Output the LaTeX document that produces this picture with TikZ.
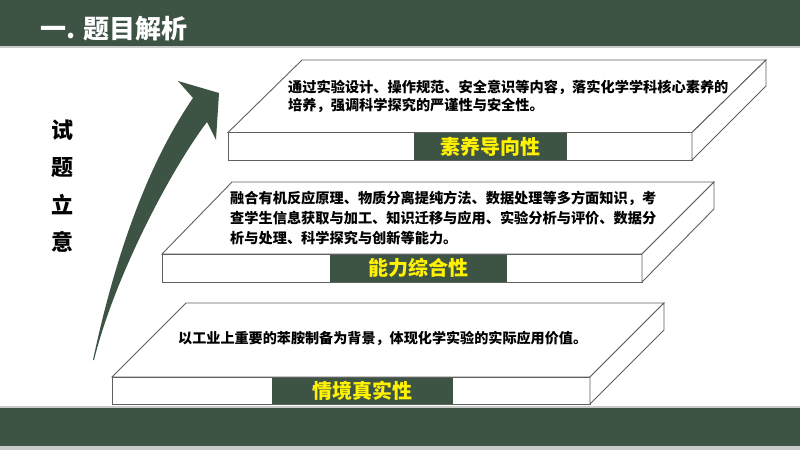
\documentclass[tikz,border=0pt]{standalone}
\usepackage{fontspec}
\setmainfont{Noto Sans CJK SC}
\definecolor{dkgreen}{RGB}{61,83,67}
\definecolor{barline}{RGB}{200,204,200}
\definecolor{slabline}{RGB}{96,96,96}
\tikzset{
  slabface/.style={draw=slabline, line width=0.9pt, fill=white, line join=miter},
  tagbox/.style={fill=dkgreen, draw=none},
  tagtext/.style={text=yellow, font=\fontsize{20}{20}\selectfont\bfseries, inner sep=0pt},
  bodytext/.style={anchor=west, align=left, inner sep=0pt, text=black},
}
\begin{document}
\begin{tikzpicture}[x=1pt,y=-1pt]
\useasboundingbox (0,0) rectangle (800,450);
% bars
\fill[dkgreen] (0,0) rectangle (800,46);
\fill[barline] (0,46) rectangle (800,48);
\fill[barline] (0,406) rectangle (800,408);
\fill[dkgreen] (0,408) rectangle (800,446);
\fill[barline] (0,446) rectangle (800,450);
\node[anchor=west, inner sep=0pt, text=white, font=\fontsize{26}{26}\selectfont\bfseries] (title) at (40,29) {一. 题目解析};

% side text
\node[align=center, inner sep=0pt, font=\fontsize{22}{37.5}\selectfont\bfseries] (side) at (62,186) {试\\题\\立\\意};

% arrow
\fill[dkgreen] (93,360) .. controls (110,280) and (140,175) .. (193,98)
  -- (178,81) -- (219,93) -- (216,140) -- (207,122)
  .. controls (172,168) and (115,275) .. (94,360) -- cycle;

% slab 1
\draw[slabface] (228,132.5) -- (692,132.5) -- (766,60) -- (302,60) -- cycle;
\draw[slabface] (228,132.5) rectangle (692,160);
\draw[slabface] (692,132.5) -- (766,60) -- (766,86) -- (692,160) -- cycle;
\fill[tagbox] (414,133) rectangle (567,159.5);
\node[tagtext] (t1) at (490.5,146.5) {素养导向性};
\node[bodytext, font=\fontsize{14.2}{18}\selectfont\bfseries] (b1) at (288,96.7)
  {通过实验设计、操作规范、安全意识等内容，落实化学学科核心素养的\\培养，强调科学探究的严谨性与安全性。};

% slab 2
\draw[slabface] (162,254) -- (642,254) -- (714,182) -- (232,182) -- cycle;
\draw[slabface] (162,254) rectangle (642,282);
\draw[slabface] (642,254) -- (714,182) -- (714,209) -- (642,282) -- cycle;
\fill[tagbox] (330,254.5) rectangle (507,281.5);
\node[tagtext] (t2) at (418.5,268) {能力综合性};
\node[bodytext, font=\fontsize{14.2}{20}\selectfont\bfseries] (b2) at (230,218.3)
  {融合有机反应原理、物质分离提纯方法、数据处理等多方面知识，考\\查学生信息获取与加工、知识迁移与应用、实验分析与评价、数据分\\析与处理、科学探究与创新等能力。};

% slab 3
\draw[slabface] (112,377) -- (590,377) -- (664,303) -- (186,303) -- cycle;
\draw[slabface] (112,377) rectangle (590,404);
\draw[slabface] (590,377) -- (664,303) -- (664,330) -- (590,404) -- cycle;
\fill[tagbox] (272,377.5) rectangle (453,403.5);
\node[tagtext] (t3) at (362.5,391) {情境真实性};
\node[bodytext, font=\fontsize{14.1}{17}\selectfont\bfseries] (b3) at (178,338)
  {以工业上重要的苯胺制备为背景，体现化学实验的实际应用价值。};
\end{tikzpicture}
\end{document}
